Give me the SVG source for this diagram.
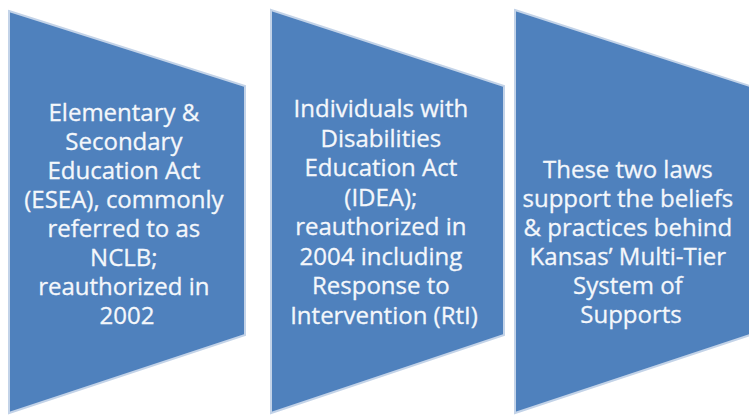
<svg xmlns="http://www.w3.org/2000/svg" width="749" height="416" viewBox="0 0 749 416">
<style>
.shape{fill:#4f81bd;stroke:#c3d3e8;stroke-width:2;stroke-linejoin:miter}
.lbl{font-family:"Open Sans","Liberation Sans",sans-serif;font-size:24px;fill:#f4f7fb;stroke:#f4f7fb;stroke-width:0.3;text-anchor:middle}
</style>
<rect width="749" height="416" fill="#ffffff"/>
<g id="connectors"></g>
<g id="node1">
<polygon class="shape" points="9,11 245,86 245,335 9,413"/>
<text class="lbl">
<tspan x="127" y="121">Elementary &amp;</tspan>
<tspan x="127" y="150">Secondary</tspan>
<tspan x="127" y="179">Education Act</tspan>
<tspan x="127" y="208">(ESEA), commonly</tspan>
<tspan x="127" y="237">referred to as</tspan>
<tspan x="127" y="266">NCLB;</tspan>
<tspan x="127" y="295">reauthorized in</tspan>
<tspan x="127" y="324">2002</tspan>
</text>
</g>
<g id="node2">
<polygon class="shape" points="271,10 504,86 504,335 271,413"/>
<text class="lbl">
<tspan x="384" y="117">Individuals with</tspan>
<tspan x="384" y="146.5">Disabilities</tspan>
<tspan x="384" y="176">Education Act</tspan>
<tspan x="384" y="205.5">(IDEA);</tspan>
<tspan x="384" y="235">reauthorized in</tspan>
<tspan x="384" y="264.5">2004 including</tspan>
<tspan x="384" y="294">Response to</tspan>
<tspan x="384" y="323.5">Intervention (RtI)</tspan>
</text>
</g>
<g id="node3">
<polygon class="shape" points="515,10 750,86 750,335 515,413"/>
<text class="lbl">
<tspan x="631" y="178">These two laws</tspan>
<tspan x="631" y="207">support the beliefs</tspan>
<tspan x="631" y="236">&amp; practices behind</tspan>
<tspan x="631" y="265">Kansas’ Multi-Tier</tspan>
<tspan x="631" y="294">System of</tspan>
<tspan x="631" y="323">Supports</tspan>
</text>
</g>
</svg>
